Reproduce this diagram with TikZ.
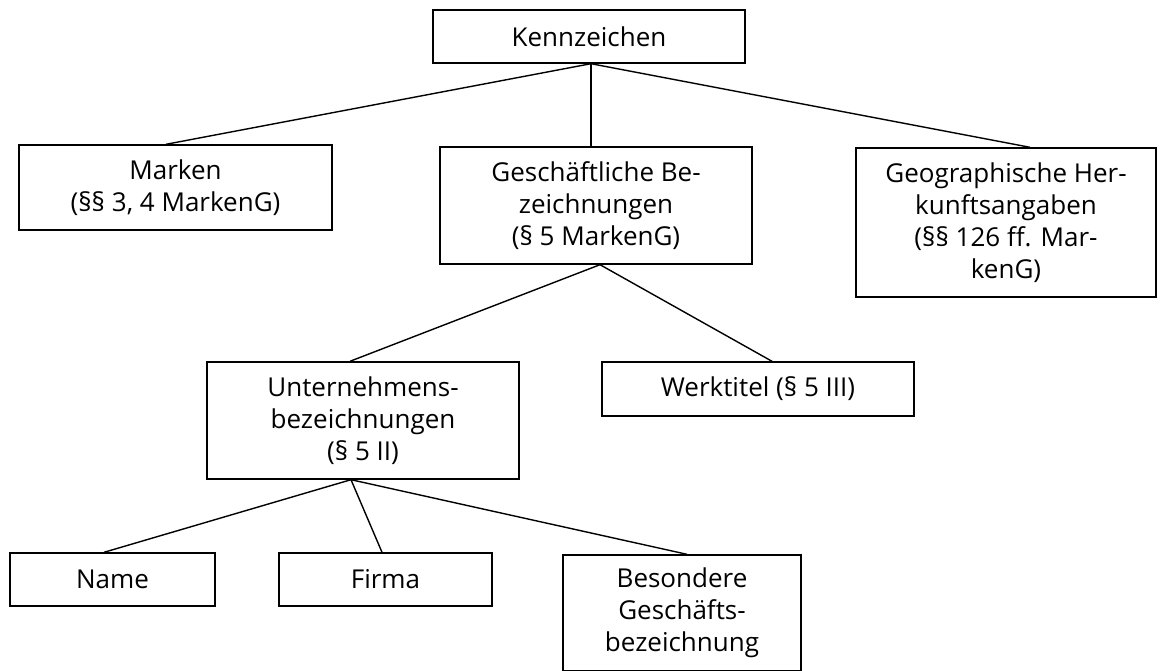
\documentclass[tikz,border=0pt]{standalone}
\usepackage{fontspec}
\setmainfont{Open Sans}
\begin{document}
\begin{tikzpicture}[x=1pt,y=-1pt,
  box/.style={draw, line width=1.4pt, align=center, inner sep=0pt,
    font=\fontsize{26}{32}\selectfont},
  conn/.style={line width=1.4pt}]
\useasboundingbox (0,0) rectangle (1160,671);
\fill[white] (0,0) rectangle (1160,671);
% boxes: center at ((x1+x2)/2,(y1+y2)/2)
\node[box, minimum width=312pt, minimum height=53pt] (kz) at (589,36.5) {Kennzeichen};
\node[box, minimum width=313pt, minimum height=85pt] (mk) at (175.5,187.5) {Marken\\(§§ 3, 4 MarkenG)};
\node[box, minimum width=312pt, minimum height=117pt] (gb) at (596,205.5) {Geschäftliche Be-\\zeichnungen\\(§ 5 MarkenG)};
\node[box, minimum width=300pt, minimum height=149pt] (geo) at (1006,222.5) {Geographische Her-\\kunftsangaben\\(§§ 126 ff. Mar-\\kenG)};
\node[box, minimum width=312pt, minimum height=117pt] (ub) at (363,420.5) {Unternehmens-\\bezeichnungen\\(§ 5 II)};
\node[box, minimum width=312pt, minimum height=54pt] (wt) at (758,389) {Werktitel (§ 5 III)};
\node[box, minimum width=205pt, minimum height=53pt] (nm) at (112.5,579.5) {Name};
\node[box, minimum width=213pt, minimum height=53pt] (fi) at (385.5,579.5) {Firma};
\node[box, minimum width=238pt, minimum height=116pt] (bg) at (682,613) {Besondere\\Geschäfts-\\bezeichnung};
% connectors
\coordinate (kzj) at ([xshift=2pt]kz.south);
\draw[conn] (kzj) -- ([xshift=-9.5pt]mk.north);
\draw[conn] (kzj) -- (kzj |- gb.north);
\draw[conn] (kzj) -- ([xshift=24pt]geo.north);
\coordinate (gbj) at ([xshift=4pt]gb.south);
\draw[conn] (gbj) -- ([xshift=-13pt]ub.north);
\draw[conn] (gbj) -- ([xshift=14pt]wt.north);
\coordinate (ubj) at ([xshift=-12pt]ub.south);
\draw[conn] (ubj) -- ([xshift=-8.5pt]nm.north);
\draw[conn] (ubj) -- ([xshift=-3.5pt]fi.north);
\draw[conn] (ubj) -- ([xshift=5pt]bg.north);
\end{tikzpicture}
\end{document}
